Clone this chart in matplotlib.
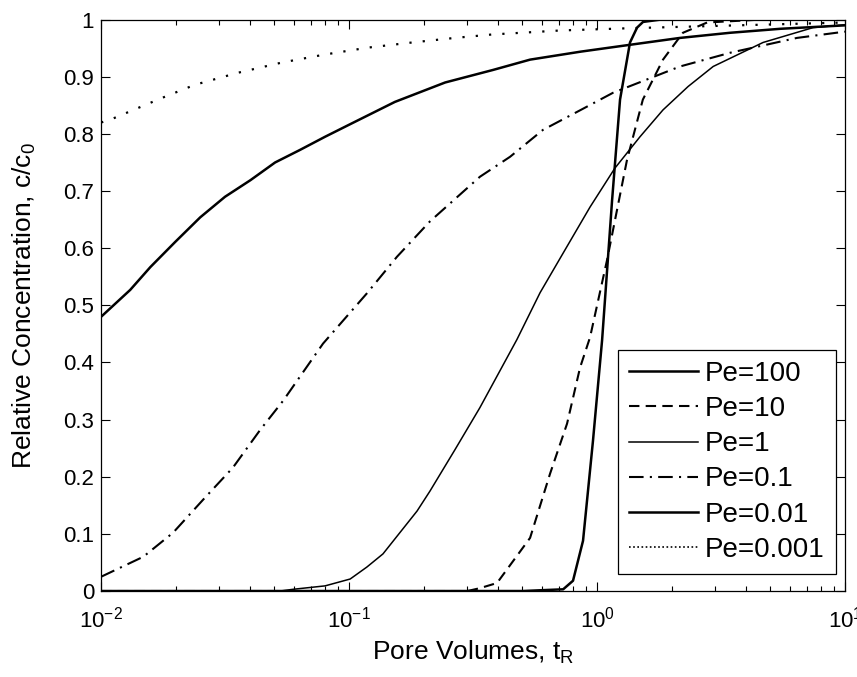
import numpy as np
import matplotlib
matplotlib.use('Agg')
import matplotlib.pyplot as plt
from matplotlib.ticker import LogLocator, FixedLocator

plt.rcParams['font.family'] = ['Liberation Sans', 'DejaVu Sans']
plt.rcParams['mathtext.fontset'] = 'custom'
plt.rcParams['mathtext.rm'] = 'Liberation Sans'
plt.rcParams['mathtext.it'] = 'Liberation Sans'

# breakthrough curves (pore volumes, c/c0)
t_pe100 = [0.01, 0.1, 0.5, 0.73, 0.80, 0.878, 0.963, 1.048, 1.15, 1.238, 1.358, 1.45, 1.533, 1.8, 10]
c_pe100 = [0, 0, 0, 0.003, 0.018, 0.088, 0.263, 0.439, 0.684, 0.860, 0.960, 0.986, 0.996, 1.0, 1.0]

t_pe10 = [0.01, 0.1, 0.3, 0.337, 0.395, 0.537, 0.646, 0.757, 0.854, 0.937, 1.097, 1.32, 1.53,
          1.845, 2.22, 2.78, 4.54, 10]
c_pe10 = [0, 0, 0, 0.005, 0.014, 0.093, 0.205, 0.293, 0.391, 0.444, 0.579, 0.754, 0.860,
          0.930, 0.977, 0.995, 1.0, 1.0]

t_pe1 = [0.01, 0.0527, 0.0594, 0.08, 0.101, 0.118, 0.137, 0.188, 0.212, 0.267, 0.337, 0.475, 0.589,
         0.729, 0.937, 1.18, 1.49, 1.845, 2.33, 2.94, 4.67, 7.43, 10]
c_pe1 = [0, 0, 0.003, 0.009, 0.021, 0.042, 0.065, 0.14, 0.175, 0.247, 0.321, 0.44, 0.522,
         0.591, 0.672, 0.740, 0.795, 0.842, 0.883, 0.918, 0.960, 0.986, 0.991]

t_pe01 = [0.01, 0.0148, 0.0195, 0.0258, 0.034, 0.0438, 0.0542, 0.0785, 0.118, 0.156, 0.212,
          0.337, 0.446, 0.605, 0.86, 1.16, 2.16, 3.44, 6.4, 10]
c_pe01 = [0.025, 0.06, 0.102, 0.16, 0.216, 0.282, 0.333, 0.433, 0.521, 0.585, 0.647,
          0.725, 0.76, 0.807, 0.842, 0.872, 0.918, 0.942, 0.968, 0.979]

t_pe001 = [0.01, 0.0131, 0.0158, 0.0199, 0.0251, 0.0316, 0.04, 0.0503, 0.0634, 0.080, 0.101,
           0.153, 0.244, 0.381, 0.537, 0.86, 1.36, 2.16, 3.44, 5.5, 10]
c_pe001 = [0.48, 0.527, 0.567, 0.611, 0.654, 0.690, 0.719, 0.750, 0.772, 0.795, 0.817,
           0.856, 0.890, 0.912, 0.930, 0.944, 0.956, 0.968, 0.977, 0.984, 0.99]

t_pe0001 = [0.01, 0.0109, 0.0176, 0.0239, 0.0356, 0.0537, 0.080, 0.119, 0.1795, 0.267, 0.377, 0.71, 1.36, 10]
c_pe0001 = [0.82, 0.825, 0.863, 0.886, 0.907, 0.925, 0.939, 0.951, 0.960, 0.968, 0.974, 0.981, 0.985, 0.995]

labels = ['Pe=100', 'Pe=10', 'Pe=1', 'Pe=0.1', 'Pe=0.01', 'Pe=0.001']

fig = plt.figure(figsize=(8.57, 6.77), dpi=100)
ax = fig.add_axes([0.118, 0.127, 0.868, 0.844])

ax.plot(t_pe100, c_pe100, 'k-', lw=1.8, label=labels[0])
ax.plot(t_pe10, c_pe10, color='k', lw=1.5, linestyle=(0, (5, 3)), label=labels[1])
ax.plot(t_pe1, c_pe1, 'k-', lw=1.1, label=labels[2])
ax.plot(t_pe01, c_pe01, color='k', lw=1.5, linestyle=(0, (7, 3, 1, 3)), label=labels[3])
ax.plot(t_pe001, c_pe001, 'k-', lw=1.8, label=labels[4])
ax.plot(t_pe0001, c_pe0001, color='k', lw=1.6, linestyle=(0, (1, 5)), label=labels[5])

ax.set_xscale('log')
ax.set_xlim(1e-2, 1e1)
ax.set_ylim(0, 1)
ax.yaxis.set_major_locator(FixedLocator(np.arange(0, 1.01, 0.1)))
ax.set_yticklabels(['0', '0.1', '0.2', '0.3', '0.4', '0.5', '0.6', '0.7', '0.8', '0.9', '1'])
ax.xaxis.set_minor_locator(LogLocator(base=10, subs=np.arange(2, 10)))

ax.tick_params(which='both', direction='in', top=True, right=True, width=0.8, labelsize=16)
ax.tick_params(which='major', length=6.5)
ax.tick_params(which='minor', length=3.5)
ax.tick_params(axis='x', pad=11)
ax.tick_params(axis='y', pad=5)
for s in ax.spines.values():
    s.set_linewidth(0.9)

ax.set_xlabel('Pore Volumes, t$_R$', fontsize=19, labelpad=5)
ax.set_ylabel('Relative Concentration, c/c$_0$', fontsize=19, labelpad=18)

leg = ax.legend(loc='lower right', bbox_to_anchor=(0.988, 0.03), borderaxespad=0,
                fontsize=20, handlelength=2.5, handletextpad=0.25, labelspacing=0.33,
                borderpad=0.4, fancybox=False, framealpha=1, edgecolor='k')
leg.get_frame().set_linewidth(0.9)
# legend sample of the dotted line is drawn with finer dots
leg.get_lines()[5].set_linestyle((0, (1, 1.5)))
leg.get_lines()[5].set_linewidth(1.2)

fig.savefig('out.png', dpi=100)
